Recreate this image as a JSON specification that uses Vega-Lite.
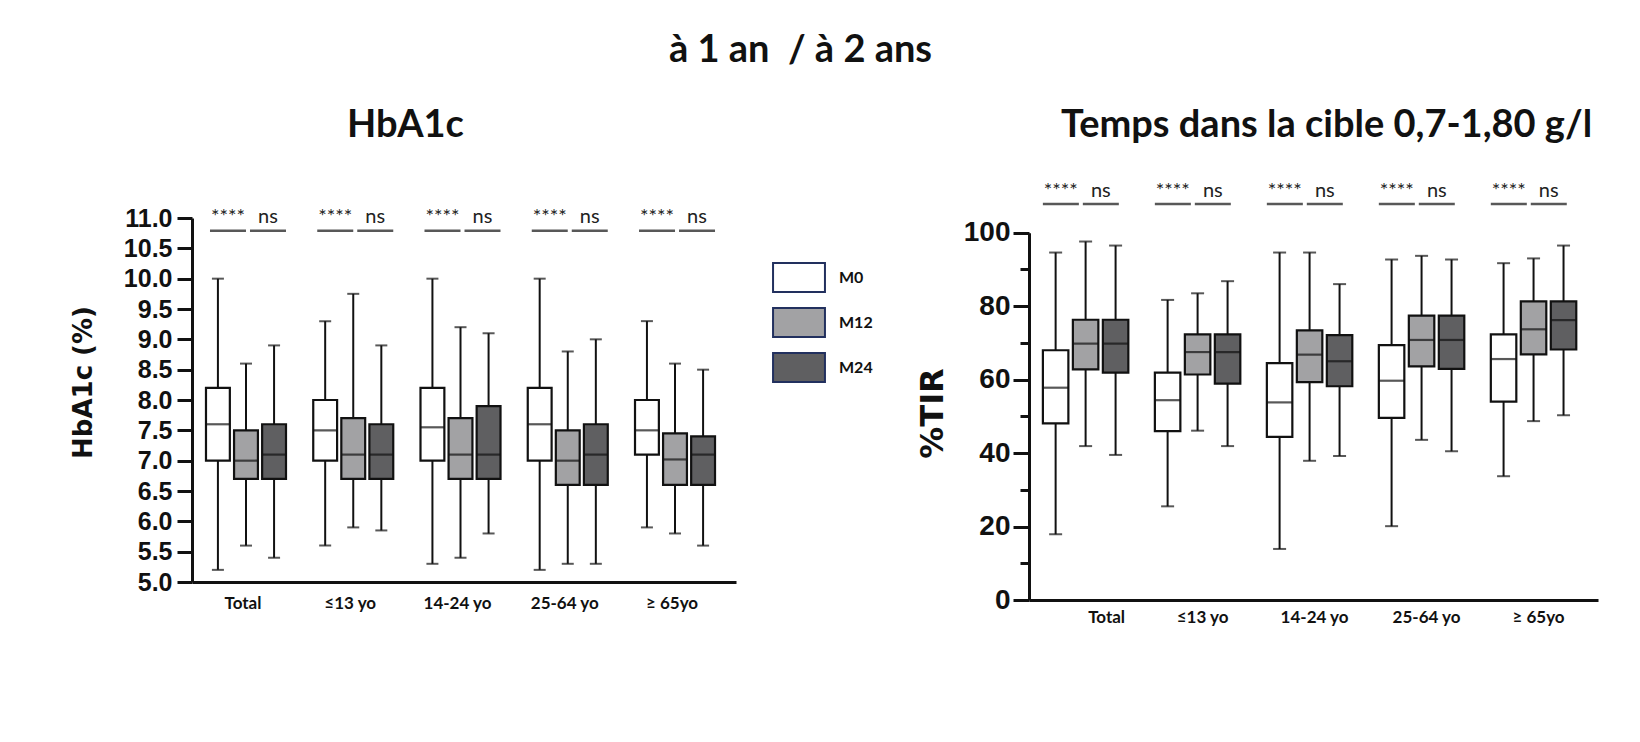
{
  "$schema": "https://vega.github.io/schema/vega-lite/v6.json",
  "width": 1406,
  "height": 382,
  "autosize": {"type": "none"},
  "padding": {"left": 192, "top": 218, "right": 42, "bottom": 142},
  "background": "#ffffff",
  "config": {"view": {"stroke": null}, "axis": {"grid": false}, "font": "Lato"},
  "datasets": {
    "hba1c": [
      {"group": "Total", "period": "M0", "min": 5.2, "q1": 7.0, "median": 7.6, "q3": 8.2, "max": 10.0},
      {"group": "Total", "period": "M12", "min": 5.6, "q1": 6.7, "median": 7.0, "q3": 7.5, "max": 8.6},
      {"group": "Total", "period": "M24", "min": 5.4, "q1": 6.7, "median": 7.1, "q3": 7.6, "max": 8.9},
      {"group": "≤13 yo", "period": "M0", "min": 5.6, "q1": 7.0, "median": 7.5, "q3": 8.0, "max": 9.3},
      {"group": "≤13 yo", "period": "M12", "min": 5.9, "q1": 6.7, "median": 7.1, "q3": 7.7, "max": 9.75},
      {"group": "≤13 yo", "period": "M24", "min": 5.85, "q1": 6.7, "median": 7.1, "q3": 7.6, "max": 8.9},
      {"group": "14-24 yo", "period": "M0", "min": 5.3, "q1": 7.0, "median": 7.55, "q3": 8.2, "max": 10.0},
      {"group": "14-24 yo", "period": "M12", "min": 5.4, "q1": 6.7, "median": 7.1, "q3": 7.7, "max": 9.2},
      {"group": "14-24 yo", "period": "M24", "min": 5.8, "q1": 6.7, "median": 7.1, "q3": 7.9, "max": 9.1},
      {"group": "25-64 yo", "period": "M0", "min": 5.2, "q1": 7.0, "median": 7.6, "q3": 8.2, "max": 10.0},
      {"group": "25-64 yo", "period": "M12", "min": 5.3, "q1": 6.6, "median": 7.0, "q3": 7.5, "max": 8.8},
      {"group": "25-64 yo", "period": "M24", "min": 5.3, "q1": 6.6, "median": 7.1, "q3": 7.6, "max": 9.0},
      {"group": "≥ 65yo", "period": "M0", "min": 5.9, "q1": 7.1, "median": 7.5, "q3": 8.0, "max": 9.3},
      {"group": "≥ 65yo", "period": "M12", "min": 5.8, "q1": 6.6, "median": 7.02, "q3": 7.45, "max": 8.6},
      {"group": "≥ 65yo", "period": "M24", "min": 5.6, "q1": 6.6, "median": 7.1, "q3": 7.4, "max": 8.5}
    ],
    "tir": [
      {"group": "Total", "period": "M0", "min": 17.9, "q1": 48.1, "median": 57.8, "q3": 68.0, "max": 94.6},
      {"group": "Total", "period": "M12", "min": 41.9, "q1": 62.8, "median": 69.8, "q3": 76.3, "max": 97.6},
      {"group": "Total", "period": "M24", "min": 39.5, "q1": 61.9, "median": 69.8, "q3": 76.3, "max": 96.5},
      {"group": "≤13 yo", "period": "M0", "min": 25.5, "q1": 46.0, "median": 54.4, "q3": 61.9, "max": 81.7},
      {"group": "≤13 yo", "period": "M12", "min": 46.1, "q1": 61.4, "median": 67.5, "q3": 72.3, "max": 83.5},
      {"group": "≤13 yo", "period": "M24", "min": 41.9, "q1": 58.9, "median": 67.5, "q3": 72.3, "max": 86.8},
      {"group": "14-24 yo", "period": "M0", "min": 13.9, "q1": 44.4, "median": 53.8, "q3": 64.5, "max": 94.6},
      {"group": "14-24 yo", "period": "M12", "min": 37.9, "q1": 59.3, "median": 66.8, "q3": 73.4, "max": 94.6},
      {"group": "14-24 yo", "period": "M24", "min": 39.2, "q1": 58.2, "median": 65.0, "q3": 72.1, "max": 86.0},
      {"group": "25-64 yo", "period": "M0", "min": 20.1, "q1": 49.6, "median": 59.7, "q3": 69.4, "max": 92.7},
      {"group": "25-64 yo", "period": "M12", "min": 43.6, "q1": 63.6, "median": 70.8, "q3": 77.4, "max": 93.7},
      {"group": "25-64 yo", "period": "M24", "min": 40.5, "q1": 62.9, "median": 70.8, "q3": 77.4, "max": 92.7},
      {"group": "≥ 65yo", "period": "M0", "min": 33.7, "q1": 54.0, "median": 65.6, "q3": 72.3, "max": 91.7},
      {"group": "≥ 65yo", "period": "M12", "min": 48.7, "q1": 66.9, "median": 73.7, "q3": 81.3, "max": 93.0},
      {"group": "≥ 65yo", "period": "M24", "min": 50.3, "q1": 68.2, "median": 76.2, "q3": 81.3, "max": 96.5}
    ],
    "signif": [
      {"group": "Total", "pair": "a", "label": "****"},
      {"group": "Total", "pair": "b", "label": "ns"},
      {"group": "≤13 yo", "pair": "a", "label": "****"},
      {"group": "≤13 yo", "pair": "b", "label": "ns"},
      {"group": "14-24 yo", "pair": "a", "label": "****"},
      {"group": "14-24 yo", "pair": "b", "label": "ns"},
      {"group": "25-64 yo", "pair": "a", "label": "****"},
      {"group": "25-64 yo", "pair": "b", "label": "ns"},
      {"group": "≥ 65yo", "pair": "a", "label": "****"},
      {"group": "≥ 65yo", "pair": "b", "label": "ns"}
    ]
  },
  "resolve": {
    "scale": {"x": "independent", "y": "independent", "xOffset": "independent"},
    "axis": {"x": "independent", "y": "independent"}
  },
  "layer": [
    {
      "data": {"name": "hba1c"},
      "resolve": {"scale": {"xOffset": "independent"}, "axis": {"x": "independent", "y": "independent"}},
      "layer": [
        {
          "mark": {"type": "rule", "color": "#111111", "strokeWidth": 2},
          "encoding": {
            "x": {"field": "group", "type": "nominal",
              "scale": {"type": "band", "domain": ["Total", "≤13 yo", "14-24 yo", "25-64 yo", "≥ 65yo"], "range": [0, 544], "paddingInner": 0.254, "paddingOuter": 0.163, "align": 0.4},
              "axis": {"orient": "bottom", "offset": -18, "title": null, "ticks": false, "domain": true, "domainWidth": 3, "domainColor": "#111111", "labelAngle": 0, "labelFont": "Lato", "labelFontWeight": "bold", "labelFontSize": 17, "labelColor": "#111111", "labelPadding": 13, "labelOffset": -3}},
            "xOffset": {"field": "period", "type": "nominal", "scale": {"type": "band", "domain": ["M0", "M12", "M24"], "paddingInner": 0.15, "paddingOuter": 0}},
            "y": {"field": "min", "type": "quantitative",
              "scale": {"domain": [5, 11], "range": [364, 0], "nice": false, "zero": false},
              "axis": {"orient": "left", "offset": 0, "values": [5, 5.5, 6, 6.5, 7, 7.5, 8, 8.5, 9, 9.5, 10, 10.5, 11], "format": ".1f", "labelFont": "Liberation Sans", "labelFontWeight": "bold", "labelFontSize": 25, "labelColor": "#111111", "labelPadding": 5, "labelOverlap": false, "labelFlush": false, "tickSize": 15, "tickWidth": 3, "tickColor": "#111111", "domainWidth": 3, "domainColor": "#111111", "grid": false, "title": "HbA1c (%)", "titleFont": "DejaVu Sans", "titleFontSize": 26, "titleFontWeight": "bold", "titleColor": "#111111", "titleX": -109, "titleY": 164, "titleBaseline": "middle", "titleAlign": "center", "titleAngle": 270}},
            "y2": {"field": "max"}
          }
        },
        {
          "mark": {"type": "bar", "stroke": "#111111", "strokeWidth": 2.2},
          "encoding": {
            "x": {"field": "group", "type": "nominal",
              "axis": {"orient": "top", "title": "HbA1c", "labels": false, "ticks": false, "domain": false, "titleFont": "Lato", "titleFontSize": 38, "titleFontWeight": "bold", "titleColor": "#111111", "titleX": 213, "titleY": -93, "titleBaseline": "middle", "titleAlign": "center"}},
            "xOffset": {"field": "period", "type": "nominal", "scale": {"type": "band", "domain": ["M0", "M12", "M24"], "paddingInner": 0.15, "paddingOuter": 0}},
            "y": {"field": "q1", "type": "quantitative", "axis": null},
            "y2": {"field": "q3"},
            "fill": {"field": "period", "type": "nominal",
              "scale": {"domain": ["M0", "M12", "M24"], "range": ["#ffffff", "#a2a2a4", "#5f5f61"]},
              "legend": {"orient": "none", "legendX": 591.5, "legendY": 44, "title": null, "symbolType": "M-1.79,-1L1.79,-1L1.79,1L-1.79,1Z", "symbolSize": 841, "symbolStrokeColor": "#22305e", "symbolStrokeWidth": 2, "symbolOpacity": 1, "labelFont": "Lato", "labelFontWeight": "bold", "labelFontSize": 16, "labelColor": "#111111", "labelOffset": 24.5, "rowPadding": 8, "padding": 0}}
          }
        },
        {
          "mark": {"type": "tick", "color": "#111111", "thickness": 2.2, "size": 24},
          "encoding": {
            "x": {"field": "group", "type": "nominal",
              "axis": {"orient": "top", "title": "à 1 an \u00a0/ à 2 ans", "labels": false, "ticks": false, "domain": false, "titleFont": "Lato", "titleFontSize": 38, "titleFontWeight": "bold", "titleColor": "#111111", "titleX": 608, "titleY": -168, "titleBaseline": "middle", "titleAlign": "center"}},
            "xOffset": {"field": "period", "type": "nominal", "scale": {"type": "band", "domain": ["M0", "M12", "M24"], "paddingInner": 0.15, "paddingOuter": 0}},
            "y": {"field": "median", "type": "quantitative", "axis": null}
          }
        },
        {
          "mark": {"type": "tick", "color": "#111111", "thickness": 2, "size": 12},
          "encoding": {
            "x": {"field": "group", "type": "nominal", "axis": null},
            "xOffset": {"field": "period", "type": "nominal", "scale": {"type": "band", "domain": ["M0", "M12", "M24"], "paddingInner": 0.15, "paddingOuter": 0}},
            "y": {"field": "min", "type": "quantitative", "axis": null}
          }
        },
        {
          "mark": {"type": "tick", "color": "#111111", "thickness": 2, "size": 12},
          "encoding": {
            "x": {"field": "group", "type": "nominal", "axis": null},
            "xOffset": {"field": "period", "type": "nominal", "scale": {"type": "band", "domain": ["M0", "M12", "M24"], "paddingInner": 0.15, "paddingOuter": 0}},
            "y": {"field": "max", "type": "quantitative", "axis": null}
          }
        },
        {
          "data": {"name": "signif"},
          "mark": {"type": "tick", "color": "#111111", "thickness": 2.5, "size": 36},
          "encoding": {
            "x": {"field": "group", "type": "nominal", "axis": null},
            "xOffset": {"field": "pair", "type": "nominal", "scale": {"type": "band", "domain": ["a", "b"], "paddingInner": 0.1, "paddingOuter": 0.05, "align": 1}},
            "y": {"datum": 10.79, "type": "quantitative", "axis": null}
          }
        },
        {
          "data": {"name": "signif"},
          "mark": {"type": "text", "color": "#222222", "font": "Lato", "fontSize": 20, "align": "center", "baseline": "alphabetic"},
          "encoding": {
            "x": {"field": "group", "type": "nominal", "axis": null},
            "xOffset": {"field": "pair", "type": "nominal", "scale": {"type": "band", "domain": ["a", "b"], "paddingInner": 0.1, "paddingOuter": 0.05, "align": 1}},
            "y": {"datum": 10.92, "type": "quantitative", "axis": null},
            "text": {"field": "label"}
          }
        }
      ]
    },
    {
      "data": {"name": "tir"},
      "resolve": {"scale": {"xOffset": "independent"}, "axis": {"x": "independent", "y": "independent"}},
      "layer": [
        {
          "mark": {"type": "rule", "color": "#111111", "strokeWidth": 2},
          "encoding": {
            "x": {"field": "group", "type": "nominal",
              "scale": {"type": "band", "domain": ["Total", "≤13 yo", "14-24 yo", "25-64 yo", "≥ 65yo"], "range": [837, 1406], "paddingInner": 0.237, "paddingOuter": 0.159, "align": 0.39},
              "axis": {"orient": "bottom", "offset": 0, "title": null, "ticks": false, "domain": true, "domainWidth": 3, "domainColor": "#111111", "labelAngle": 0, "labelFont": "Lato", "labelFontWeight": "bold", "labelFontSize": 17, "labelColor": "#111111", "labelPadding": 9, "labelOffset": {"condition": {"test": "datum.value === 'Total'", "value": 21}, "value": 5}}},
            "xOffset": {"field": "period", "type": "nominal", "scale": {"type": "band", "domain": ["M0", "M12", "M24"], "paddingInner": 0.15, "paddingOuter": 0}},
            "y": {"field": "min", "type": "quantitative",
              "scale": {"domain": [0, 100], "range": [382, 14.7], "nice": false},
              "axis": {"orient": "left", "offset": -837, "values": [0, 20, 40, 60, 80, 100], "format": "d", "labelFont": "Liberation Sans", "labelFontWeight": "bold", "labelFontSize": 28, "labelColor": "#111111", "labelPadding": 3, "labelOverlap": false, "labelFlush": false, "tickSize": 16, "tickWidth": 3, "tickColor": "#111111", "domainWidth": 3, "domainColor": "#111111", "grid": false, "title": "%TIR", "titleFont": "DejaVu Sans", "titleFontSize": 32, "titleFontWeight": "bold", "titleColor": "#111111", "titleX": -97, "titleY": 195, "titleBaseline": "middle", "titleAlign": "center", "titleAngle": 270}},
            "y2": {"field": "max"}
          }
        },
        {
          "mark": {"type": "bar", "stroke": "#111111", "strokeWidth": 2.2},
          "encoding": {
            "x": {"field": "group", "type": "nominal",
              "axis": {"orient": "top", "title": "Temps dans la cible 0,7-1,80 g/l", "labels": false, "ticks": false, "domain": false, "titleFont": "Lato", "titleFontSize": 38, "titleFontWeight": "bold", "titleColor": "#111111", "titleX": 1134, "titleY": -93, "titleBaseline": "middle", "titleAlign": "center"}},
            "xOffset": {"field": "period", "type": "nominal", "scale": {"type": "band", "domain": ["M0", "M12", "M24"], "paddingInner": 0.15, "paddingOuter": 0}},
            "y": {"field": "q1", "type": "quantitative",
              "axis": {"orient": "left", "offset": -837, "values": [10, 30, 50, 70, 90], "labels": false, "tickSize": 9, "tickWidth": 3, "tickColor": "#111111", "domain": false, "grid": false, "title": null}},
            "y2": {"field": "q3"},
            "fill": {"field": "period", "type": "nominal", "legend": null}
          }
        },
        {
          "mark": {"type": "tick", "color": "#111111", "thickness": 2.2, "size": 25},
          "encoding": {
            "x": {"field": "group", "type": "nominal", "axis": null},
            "xOffset": {"field": "period", "type": "nominal", "scale": {"type": "band", "domain": ["M0", "M12", "M24"], "paddingInner": 0.15, "paddingOuter": 0}},
            "y": {"field": "median", "type": "quantitative", "axis": null}
          }
        },
        {
          "mark": {"type": "tick", "color": "#111111", "thickness": 2, "size": 13},
          "encoding": {
            "x": {"field": "group", "type": "nominal", "axis": null},
            "xOffset": {"field": "period", "type": "nominal", "scale": {"type": "band", "domain": ["M0", "M12", "M24"], "paddingInner": 0.15, "paddingOuter": 0}},
            "y": {"field": "min", "type": "quantitative", "axis": null}
          }
        },
        {
          "mark": {"type": "tick", "color": "#111111", "thickness": 2, "size": 13},
          "encoding": {
            "x": {"field": "group", "type": "nominal", "axis": null},
            "xOffset": {"field": "period", "type": "nominal", "scale": {"type": "band", "domain": ["M0", "M12", "M24"], "paddingInner": 0.15, "paddingOuter": 0}},
            "y": {"field": "max", "type": "quantitative", "axis": null}
          }
        },
        {
          "data": {"name": "signif"},
          "mark": {"type": "tick", "color": "#111111", "thickness": 2.5, "size": 36},
          "encoding": {
            "x": {"field": "group", "type": "nominal", "axis": null},
            "xOffset": {"field": "pair", "type": "nominal", "scale": {"type": "band", "domain": ["a", "b"], "paddingInner": 0.1, "paddingOuter": 0.119, "align": 0}},
            "y": {"datum": 107.8, "type": "quantitative", "axis": null}
          }
        },
        {
          "data": {"name": "signif"},
          "mark": {"type": "text", "color": "#222222", "font": "Lato", "fontSize": 20, "align": "center", "baseline": "alphabetic"},
          "encoding": {
            "x": {"field": "group", "type": "nominal", "axis": null},
            "xOffset": {"field": "pair", "type": "nominal", "scale": {"type": "band", "domain": ["a", "b"], "paddingInner": 0.1, "paddingOuter": 0.119, "align": 0}},
            "y": {"datum": 109.7, "type": "quantitative", "axis": null},
            "text": {"field": "label"}
          }
        }
      ]
    }
  ]
}
